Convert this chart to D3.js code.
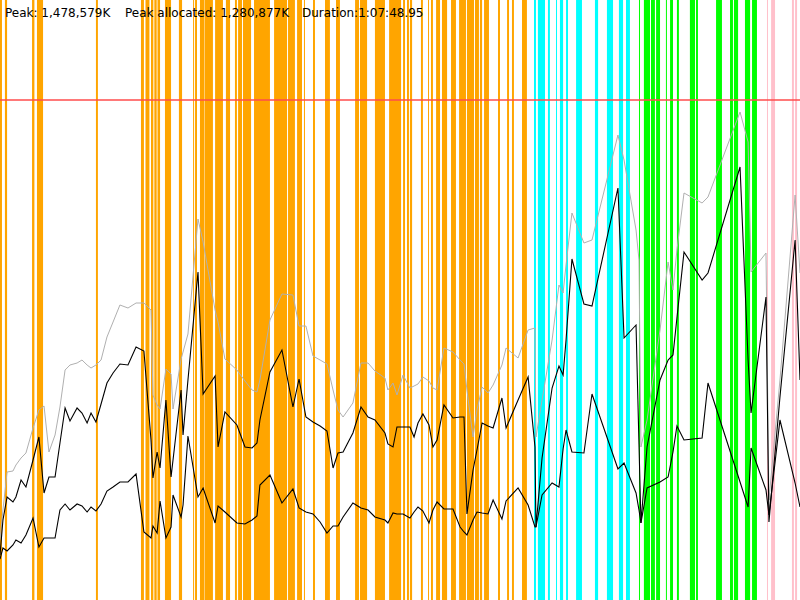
<!DOCTYPE html>
<html>
<head>
<meta charset="utf-8">
<script src="https://cdn.jsdelivr.net/npm/d3@7"></script>
<style>
  body { margin: 0; background: #fff; }
  svg { display: block; }
</style>
</head>
<body>
<script>
// Sample times (seconds since start)
const times = [0, 15, 36, 66, 81, 107, 132, 168, 198, 224, 249, 280, 305, 331, 356, 392, 417, 443, 463, 488,
  514, 544, 575, 610, 651, 692, 732, 768, 778, 799, 814, 844, 870, 880, 921, 931, 956, 1007, 1033, 1094,
  1109, 1144, 1205, 1246, 1282, 1307, 1322, 1373, 1434, 1490, 1521, 1556, 1592, 1628, 1663, 1694, 1719, 1745, 1795, 1836,
  1872, 1907, 1958, 1973, 1999, 2019, 2050, 2085, 2106, 2126, 2151, 2182, 2202, 2223, 2258, 2304, 2340, 2360, 2375, 2406,
  2426, 2452, 2482, 2508, 2553, 2574, 2635, 2686, 2721, 2726, 2757, 2808, 2843, 2864, 2879, 2909, 2970, 3011, 3143, 3174,
  3235, 3250, 3260, 3291, 3357, 3398, 3423, 3443, 3479, 3571, 3601, 3764, 3805, 3820, 3896, 3911, 3967, 4044, 4069];

// heap size (thousands of K)
const heapSize = [180, 270, 384, 387, 405, 426, 441, 516, 570, 582, 444, 495, 579, 690, 705, 711, 720, 705, 696, 705,
  720, 789, 834, 885, 876, 891, 891, 870, 615, 585, 573, 693, 678, 573, 723, 744, 798, 1143, 1074, 870,
  834, 723, 690, 657, 630, 624, 660, 840, 918, 915, 822, 822, 732, 720, 708, 630, 570, 549, 591, 711,
  711, 687, 666, 630, 651, 615, 675, 636, 642, 648, 669, 657, 636, 630, 756, 744, 720, 708, 630, 489,
  570, 639, 621, 645, 705, 756, 726, 810, 816, 489, 600, 780, 945, 921, 1005, 1161, 1071, 1080, 1395, 1320,
  1110, 1020, 459, 540, 810, 1014, 930, 1050, 1221, 1191, 1209, 1464, 1374, 984, 1041, 300, 660, 1215, 981];

// used before collection (thousands of K)
const usedBefore = [135, 240, 309, 294, 309, 360, 339, 420, 489, 321, 369, 369, 471, 576, 537, 576, 561, 531, 561, 534,
  588, 651, 681, 708, 705, 759, 747, 480, 366, 444, 396, 600, 369, 420, 630, 495, 660, 984, 618, 672,
  459, 564, 525, 459, 456, 471, 540, 684, 750, 579, 663, 549, 534, 522, 507, 396, 441, 444, 501, 579,
  549, 540, 501, 468, 459, 519, 519, 519, 489, 531, 558, 525, 459, 480, 585, 546, 549, 549, 258, 390,
  450, 531, 522, 516, 606, 516, 600, 669, 459, 219, 426, 636, 702, 675, 780, 1023, 888, 882, 1236, 786,
  825, 468, 231, 459, 660, 720, 735, 846, 1044, 960, 981, 1299, 720, 561, 909, 234, 609, 1080, 660];

// used after collection (thousands of K)
const usedAfter = [123, 156, 147, 165, 180, 171, 195, 246, 159, 186, 186, 186, 270, 288, 270, 288, 282, 264, 279, 267,
  288, 327, 339, 354, 354, 378, 204, 186, 222, 201, 297, 186, 219, 315, 249, 285, 492, 309, 336, 231,
  282, 264, 231, 228, 240, 252, 345, 375, 291, 333, 276, 264, 258, 234, 201, 222, 222, 249, 291, 276,
  270, 249, 240, 231, 261, 258, 258, 246, 264, 279, 267, 231, 270, 294, 273, 273, 219, 204, 195, 240,
  264, 261, 258, 300, 243, 297, 336, 285, 219, 219, 315, 351, 339, 453, 510, 444, 441, 618, 393, 411,
  321, 270, 231, 336, 354, 369, 444, 522, 480, 486, 651, 354, 279, 456, 330, 255, 540, 351, 279];

// phase intervals [start, end] in seconds
const orangePhases = [[0, 10], [25, 36], [163, 175], [188, 219], [488, 498], [717, 732], [740, 760], [768, 780],
  [785, 797], [801, 814], [839, 870], [910, 926], [982, 987], [992, 1002], [1017, 1038], [1040, 1083], [1094, 1134],
  [1149, 1170], [1195, 1205], [1211, 1231], [1236, 1277], [1292, 1373], [1394, 1460], [1465, 1500], [1511, 1536],
  [1546, 1551], [1592, 1602], [1653, 1678], [1709, 1729], [1806, 1826], [1831, 1867], [1907, 1958], [1979, 2040],
  [2050, 2060], [2070, 2080], [2085, 2096], [2141, 2151], [2177, 2182], [2192, 2202], [2218, 2238], [2248, 2274],
  [2294, 2319], [2335, 2370], [2375, 2411], [2416, 2436], [2441, 2452], [2462, 2487], [2533, 2543], [2579, 2589],
  [2604, 2614], [2655, 2680]];
const cyanPhases = [[2716, 2726], [2736, 2772], [2787, 2797], [2828, 2833], [2848, 2864], [2879, 2889], [2930, 2960],
  [3026, 3042], [3087, 3118], [3148, 3169], [3184, 3204]];
const greenPhases = [[3250, 3255], [3275, 3306], [3311, 3331], [3337, 3357], [3387, 3392], [3408, 3423], [3443, 3453],
  [3509, 3535], [3540, 3550], [3642, 3672], [3713, 3728], [3733, 3754], [3789, 3815], [3825, 3850]];
const pinkPhases = [[3901, 3906], [3922, 3942], [4028, 4038], [4044, 4054]];

const heapLimit = 1500;
const duration = 4068.95;
const headerLabels = ["Peak: 1,478,579K", "Peak allocated: 1,280,877K", "Duration:1:07:48.95"];

const width = 800;
const height = 600;

const svg = d3.select("body").append("svg")
  .attr("width", width)
  .attr("height", height);

const x = d3.scaleLinear().domain([0, duration]).range([0, width]);
const y = d3.scaleLinear().domain([0, 1800]).range([height, 0]);

// phase bands
const phaseGroups = [
  {data: orangePhases, color: "#ffa500"},
  {data: cyanPhases, color: "#00ffff"},
  {data: greenPhases, color: "#00ff00"},
  {data: pinkPhases, color: "#ffc0cb"}
];
phaseGroups.forEach(g => {
  svg.append("g").selectAll("rect")
    .data(g.data)
    .join("rect")
    .attr("x", d => x(d[0]))
    .attr("y", 0)
    .attr("width", d => Math.max(1, x(d[1]) - x(d[0])))
    .attr("height", height)
    .attr("fill", g.color);
});

// heap limit
svg.append("line")
  .attr("x1", 0).attr("x2", width)
  .attr("y1", y(heapLimit)).attr("y2", y(heapLimit))
  .attr("stroke", "#ff4d4d")
  .attr("stroke-width", 1.5);

const line = values => d3.line()
  .x((d, i) => x(times[i]))
  .y(d => y(d))(values);

svg.append("path")
  .attr("d", line(heapSize))
  .attr("fill", "none")
  .attr("stroke", "#b0b0b0")
  .attr("stroke-width", 1);

[usedBefore, usedAfter].forEach(vals => {
  svg.append("path")
    .attr("d", line(vals))
    .attr("fill", "none")
    .attr("stroke", "#000")
    .attr("stroke-width", 1.1);
});

// header
const labelX = [5, 125, 302];
svg.append("g").selectAll("text")
  .data(headerLabels)
  .join("text")
  .attr("x", (d, i) => labelX[i])
  .attr("y", 17)
  .attr("font-family", "DejaVu Sans, sans-serif")
  .attr("font-size", 12)
  .attr("fill", "#000")
  .text(d => d);
</script>
</body>
</html>
